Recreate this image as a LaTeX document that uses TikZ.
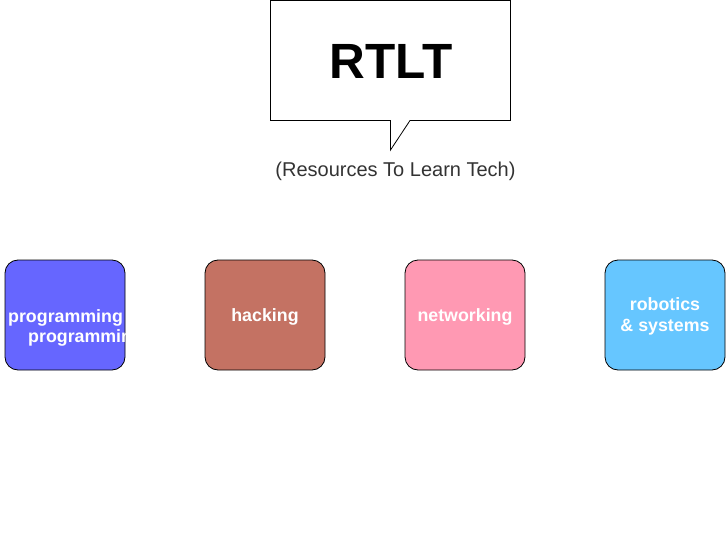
\documentclass[tikz,border=0pt]{standalone}
\usepackage{fontspec}
\setmainfont{Liberation Sans}
\definecolor{progblue}{HTML}{6666FF}
\definecolor{hackbrown}{HTML}{C47263}
\definecolor{netpink}{HTML}{FF99B3}
\definecolor{robblue}{HTML}{66C6FF}
\definecolor{subgray}{HTML}{333333}
\tikzset{
  topicbox/.style={draw=black, line width=0.8pt, rounded corners=13pt, minimum width=120pt, minimum height=110pt, inner sep=0pt, text=white, font=\fontsize{17.8}{21}\selectfont\bfseries, align=center},
  boxtext/.style={text=white, font=\fontsize{17.8}{21}\selectfont\bfseries, inner sep=0pt},
  callout/.style={draw=black, line width=0.8pt, fill=white},
}
\begin{document}
\begin{tikzpicture}[x=1pt, y=-1pt]
\useasboundingbox (0,0) rectangle (726,551);
% callout
\draw[callout] (270.5,0.5) -- (510.5,0.5) -- (510.5,120.5) -- (410,120.5) -- (390.5,150) -- (390.5,120.5) -- (270.5,120.5) -- cycle;
\node[font=\fontsize{49.5}{56}\selectfont\bfseries] (title) at (391,61) {RTLT};
\node[font=\fontsize{20}{24}\selectfont, text=subgray] (sub) at (395.5,171.5) {(Resources To Learn Tech)};
% boxes
\node[topicbox, fill=progblue] (prog) at (65,315) {};
\begin{scope}
  \clip (5,260) rectangle (125,370);
  \node[boxtext, anchor=base west] (progl1) at (8,322) {programming};
  \node[boxtext, anchor=base west] (progl2) at (28,342) {programming};
\end{scope}
\node[topicbox, fill=hackbrown] (hack) at (265,315) {};
\node[boxtext] (hackt) at (265,316.5) {hacking};
\node[topicbox, fill=netpink] (net) at (465,315) {};
\node[boxtext] (nett) at (465,316.5) {networking};
\node[topicbox, fill=robblue] (rob) at (665,315) {};
\node[boxtext, align=center] (robt) at (665,316) {robotics\\\& systems};
\end{tikzpicture}
\end{document}
